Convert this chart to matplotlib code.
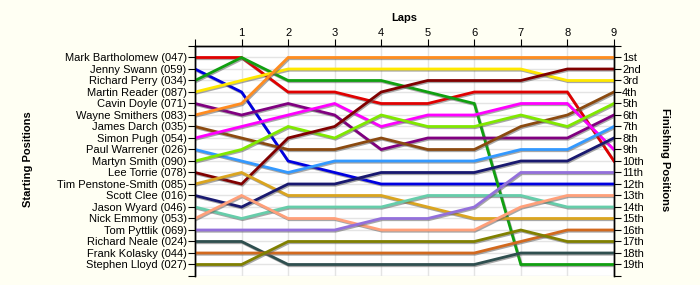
import matplotlib
matplotlib.use("Agg")
import matplotlib.pyplot as plt
import matplotlib.patheffects as pe

laps = [0, 1, 2, 3, 4, 5, 6, 7, 8, 9]
drivers = ["Mark Bartholomew (047)", "Jenny Swann (059)", "Richard Perry (034)",
           "Martin Reader (087)", "Cavin Doyle (071)", "Wayne Smithers (083)",
           "James Darch (035)", "Simon Pugh (054)", "Paul Warrener (026)",
           "Martyn Smith (090)", "Lee Torrie (078)", "Tim Penstone-Smith (085)",
           "Scott Clee (016)", "Jason Wyard (046)", "Nick Emmony (053)",
           "Tom Pyttlik (069)", "Richard Neale (024)", "Frank Kolasky (044)",
           "Stephen Lloyd (027)"]
finish_labels = ["1st", "2nd", "3rd", "4th", "5th", "6th", "7th", "8th", "9th", "10th",
                 "11th", "12th", "13th", "14th", "15th", "16th", "17th", "18th", "19th"]

pos_bartholomew = [1, 1, 4, 4, 5, 5, 4, 4, 4, 10]
pos_swann = [2, 4, 10, 11, 12, 12, 12, 12, 12, 12]
pos_perry = [3, 1, 3, 3, 3, 4, 5, 19, 19, 19]
pos_reader = [4, 3, 2, 2, 2, 2, 2, 2, 3, 3]
pos_doyle = [5, 6, 5, 6, 9, 8, 8, 8, 8, 6]
pos_smithers = [6, 5, 1, 1, 1, 1, 1, 1, 1, 1]
pos_darch = [7, 8, 9, 9, 8, 9, 9, 7, 6, 4]
pos_pugh = [8, 7, 6, 5, 7, 6, 6, 5, 5, 9]
pos_warrener = [9, 10, 11, 10, 10, 10, 10, 9, 9, 7]
pos_msmith = [10, 9, 7, 8, 6, 7, 7, 6, 7, 5]
pos_torrie = [11, 12, 8, 7, 4, 3, 3, 3, 2, 2]
pos_penstone = [12, 11, 13, 13, 13, 14, 15, 15, 15, 15]
pos_clee = [13, 14, 12, 12, 11, 11, 11, 10, 10, 8]
pos_wyard = [14, 15, 14, 14, 14, 13, 13, 13, 14, 14]
pos_emmony = [15, 13, 15, 15, 16, 16, 16, 14, 13, 13]
pos_pyttlik = [16, 16, 16, 16, 15, 15, 14, 11, 11, 11]
pos_neale = [17, 17, 19, 19, 19, 19, 19, 18, 18, 18]
pos_kolasky = [18, 18, 18, 18, 18, 18, 18, 17, 16, 16]
pos_lloyd = [19, 19, 17, 17, 17, 17, 17, 16, 17, 17]

series = [pos_bartholomew, pos_swann, pos_perry, pos_reader, pos_doyle, pos_smithers,
          pos_darch, pos_pugh, pos_warrener, pos_msmith, pos_torrie, pos_penstone,
          pos_clee, pos_wyard, pos_emmony, pos_pyttlik, pos_neale, pos_kolasky, pos_lloyd]
colors = ["#E00000", "#0000E0", "#10A010", "#FFE800", "#800080", "#FF8C20",
          "#8B4A10", "#FF00FF", "#3399FF", "#80E800", "#800000", "#DAA520",
          "#191970", "#66CDAA", "#FFA07A", "#9370DB", "#2F4F4F", "#D2691E", "#808000"]

plt.rcParams['font.family'] = ['Liberation Sans', 'DejaVu Sans']
bg = "#FFFFF3"
fig = plt.figure(figsize=(7.0, 2.85), dpi=100, facecolor=bg)
ax = fig.add_axes([0.2786, 0.0316, 0.877 - 0.2786, 0.8386 - 0.0316])
ax.set_facecolor("white")

ax.set_xlim(0, 9)
ax.set_ylim(20, 0)

ax.set_xticks(range(0, 10))
ax.grid(True, color="#E4E4E4", linewidth=1.0)
ax.set_axisbelow(True)

for ys, c in zip(series, colors):
    ax.plot(laps, ys, color=c, linewidth=2.0, solid_joinstyle="miter",
            path_effects=[pe.SimpleLineShadow(offset=(0.7, -0.9), shadow_color="#606060", alpha=0.55),
                          pe.Normal()], zorder=3)

ax.xaxis.tick_top()
ax.set_xticks(range(0, 10))
ax.set_xticklabels([""] + [str(i) for i in range(1, 10)])
ax.xaxis.set_label_position("top")
ax.set_xlabel("Laps", fontsize=8, fontweight="bold", labelpad=5)

ax.set_yticks(range(0, 21))
ax.set_yticklabels([""] + drivers + [""])
ax.tick_params(axis="y", labelsize=8, length=5, pad=1, direction="out")
ax.tick_params(axis="x", labelsize=8, length=5, pad=1, direction="out")

ax2 = ax.twinx()
ax2.set_ylim(20, 0)
ax2.set_yticks(range(0, 21))
ax2.set_yticklabels([""] + finish_labels + [""])
ax2.tick_params(axis="y", labelsize=8, length=5, pad=1, direction="out")

for a in (ax, ax2):
    a.spines["bottom"].set_visible(False)
    for s in ("top", "left", "right"):
        a.spines[s].set_linewidth(1.0)

fig.text(0.04, 0.44, "Starting Positions", rotation=90, ha="center", va="center",
         fontsize=8, fontweight="bold")
fig.text(0.95, 0.44, "Finishing Positions", rotation=-90, ha="center", va="center",
         fontsize=8, fontweight="bold")

fig.savefig("out.png", dpi=100, facecolor=bg)
